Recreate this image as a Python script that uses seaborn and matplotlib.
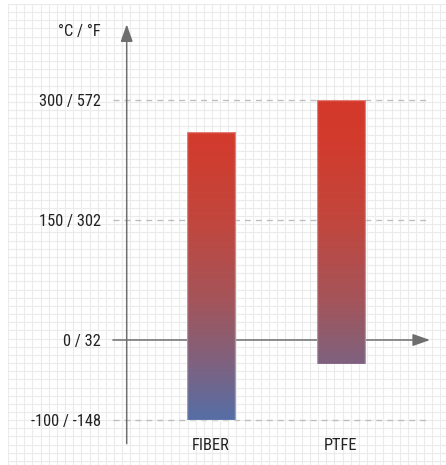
import numpy as np
import pandas as pd
import matplotlib
matplotlib.use("Agg")
import matplotlib.pyplot as plt
from matplotlib.colors import LinearSegmentedColormap, Normalize
import seaborn as sns

# Temperature ranges (°C) of the two materials
materials = ["FIBER", "PTFE"]
temp_min = [-100, -30]
temp_max = [260, 300]

# Reference levels on the temperature axis
tick_values = [-100, 0, 150, 300]
tick_labels = ["-100 / -148", "0 / 32", "150 / 302", "300 / 572"]
unit_label = "°C / °F"

sns.set_theme(style="white")
plt.rcParams["font.family"] = ["Roboto Condensed", "DejaVu Sans"]

W, H = 446, 465
fig = plt.figure(figsize=(W / 100, H / 100), dpi=100, facecolor="white")

# Squared paper backdrop
bg = fig.add_axes([8 / W, 0, (W - 8) / W, (H - 4) / H], zorder=0)
bg.set_facecolor("#f6f7f7")
bg.set_xlim(0, W - 8)
bg.set_ylim(H - 4, 0)
step = 8.16
for gx in np.arange(0, W - 8, step):
    bg.axvline(gx, color="#eaebeb", lw=0.8)
for gy in np.arange(0, H - 4, step):
    bg.axhline(gy, color="#eaebeb", lw=0.8)
bg.set_axis_off()

# Main chart axes: its left edge is the vertical temperature axis
x_px0 = 126.7
ax = fig.add_axes([x_px0 / W, 29 / H, (W - x_px0) / W, (H - 29) / H], zorder=1)
ax.patch.set_alpha(0)

df = pd.DataFrame({"material": materials, "low": temp_min, "high": temp_max})
sns.barplot(data=df, x="material", y="high", ax=ax, width=0.37,
            color="#cc3b2e", saturation=1, zorder=3)

ax.set_xlim(-0.648, 1.808)
ax.set_ylim(-120, 425)

cmap = LinearSegmentedColormap.from_list(
    "temp",
    [(0.0, "#566ea5"), (0.175, "#7f6280"), (0.25, "#8c5d70"),
     (0.375, "#a5545a"), (0.625, "#c2463d"), (0.875, "#d23b2d"),
     (1.0, "#d5382a")])
norm = Normalize(vmin=-100, vmax=300)

for patch, lo, hi in zip(ax.patches, df["low"], df["high"]):
    patch.set_y(lo)
    patch.set_height(hi - lo)
    patch.set_facecolor("none")
    patch.set_edgecolor((1, 1, 1, 0.35))
    patch.set_linewidth(1.0)
    x0 = patch.get_x()
    x1 = x0 + patch.get_width()
    grad = np.linspace(hi, lo, 300).reshape(-1, 1)
    im = ax.imshow(grad, cmap=cmap, norm=norm, aspect="auto",
                   extent=(x0, x1, lo, hi), zorder=2.5, interpolation="bilinear")
    im.set_clip_path(patch)

ax.set_xlim(-0.648, 1.808)
ax.set_ylim(-120, 425)

# Dashed reference lines
ax.hlines([300, 150, -100], -0.754, 1.685, colors="#bdbdbd", lw=0.95,
          linestyles=(0, (4.5, 3.8)), zorder=1, clip_on=False)

axis_col = "#6e6e6e"
arrow = "-|>,head_length=10.5,head_width=3.7"
ax.annotate("", xy=(1.685, 0), xytext=(-0.754, 0),
            arrowprops=dict(arrowstyle=arrow, color=axis_col, lw=1.1,
                            shrinkA=0, shrinkB=0, mutation_scale=1),
            zorder=1.5, annotation_clip=False)
ax.annotate("", xy=(-0.648, 394.6), xytext=(-0.648, -129.6),
            arrowprops=dict(arrowstyle=arrow, color=axis_col, lw=1.1,
                            shrinkA=0, shrinkB=0, mutation_scale=1),
            zorder=1.5, annotation_clip=False)

ax.set_yticks(tick_values, labels=tick_labels)
ax.tick_params(axis="y", length=0, pad=18.7, labelsize=11.8, labelcolor="#222222")
ax.tick_params(axis="x", length=0, pad=1.5, labelsize=11.8, labelcolor="#222222")
ax.set_xlabel("")
ax.set_ylabel("")
for s in ax.spines.values():
    s.set_visible(False)

ax.text(-0.848, 385.4, unit_label, ha="right", va="center", fontsize=11.8,
        color="#222222", clip_on=False)

fig.savefig("out.png", dpi=100, facecolor="white")
